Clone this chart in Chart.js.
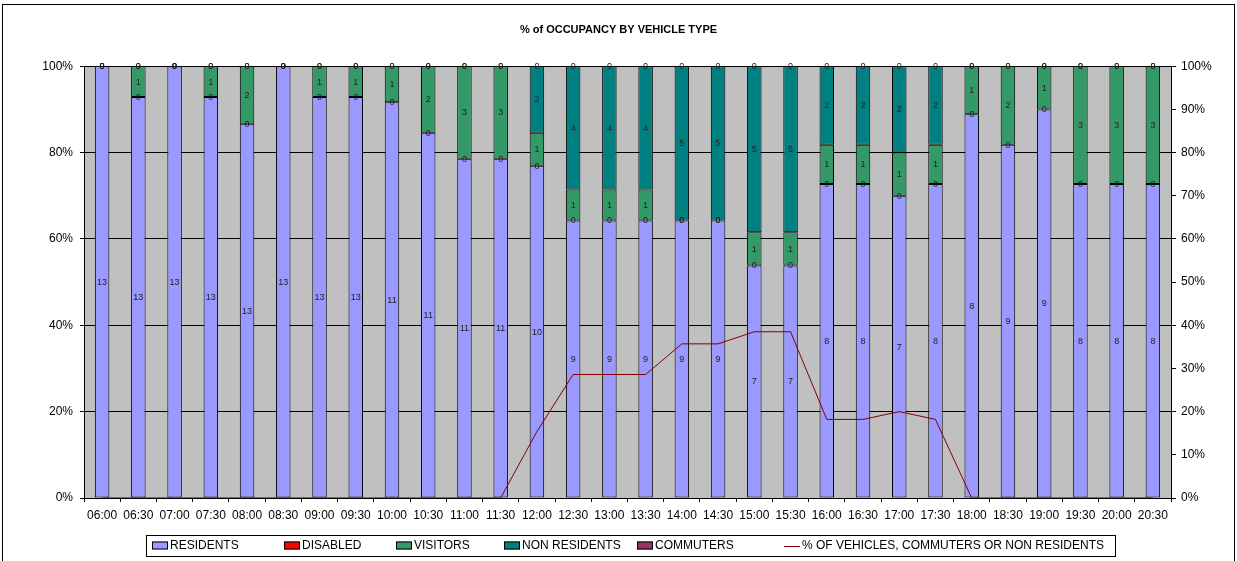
<!DOCTYPE html>
<html>
<head>
<meta charset="utf-8">
<title>% of OCCUPANCY BY VEHICLE TYPE</title>
<script src="https://cdn.jsdelivr.net/npm/chart.js@4.4.1/dist/chart.umd.min.js"></script>
<style>
    html, body { margin: 0; padding: 0; background: #fff; }
    #chartWrap { width: 1237px; height: 561px; }
</style>
</head>
<body>
<div id="chartWrap"><canvas id="occupancyChart" width="1237" height="561"></canvas></div>
<script>
'use strict';

// half-hour slots
const times = ['06:00', '06:30', '07:00', '07:30', '08:00', '08:30', '09:00', '09:30', '10:00', '10:30',
    '11:00', '11:30', '12:00', '12:30', '13:00', '13:30', '14:00', '14:30', '15:00', '15:30',
    '16:00', '16:30', '17:00', '17:30', '18:00', '18:30', '19:00', '19:30', '20:00', '20:30'];

// vehicle counts per slot (the numbers printed in the bars)
const residents    = [13, 13, 13, 13, 13, 13, 13, 13, 11, 11, 11, 11, 10, 9, 9, 9, 9, 9, 7, 7, 8, 8, 7, 8, 8, 9, 9, 8, 8, 8];
const disabled     = [0, 0, 0, 0, 0, 0, 0, 0, 0, 0, 0, 0, 0, 0, 0, 0, 0, 0, 0, 0, 0, 0, 0, 0, 0, 0, 0, 0, 0, 0];
const visitors     = [0, 1, 0, 1, 2, 0, 1, 1, 1, 2, 3, 3, 1, 1, 1, 1, 0, 0, 1, 1, 1, 1, 1, 1, 1, 2, 1, 3, 3, 3];
const nonResidents = [0, 0, 0, 0, 0, 0, 0, 0, 0, 0, 0, 0, 2, 4, 4, 4, 5, 5, 5, 5, 2, 2, 2, 2, 0, 0, 0, 0, 0, 0];
const commuters    = [0, 0, 0, 0, 0, 0, 0, 0, 0, 0, 0, 0, 0, 0, 0, 0, 0, 0, 0, 0, 0, 0, 0, 0, 0, 0, 0, 0, 0, 0];

// % of vehicles, commuters or non residents (right axis)
const commuterShare = [0, 0, 0, 0, 0, 0, 0, 0, 0, 0, 0, 0, 15.4, 28.6, 28.6, 28.6, 35.7, 35.7, 38.5, 38.5,
    18.2, 18.2, 20, 18.2, 0, 0, 0, 0, 0, 0];

const leftTicks = [0, 20, 40, 60, 80, 100];
const rightTicks = [0, 10, 20, 30, 40, 50, 60, 70, 80, 90, 100];

const FONT = 'Arial, "Liberation Sans", sans-serif';

let totals = times.map((t, i) => residents[i] + disabled[i] + visitors[i] + nonResidents[i] + commuters[i]);
let toShare = arr => arr.map((v, i) => totals[i] ? v / totals[i] * 100 : 0);

let barSet = function (label, counts, color) {
    return {
        label: label,
        data: toShare(counts),
        counts: counts,
        backgroundColor: color,
        borderColor: '#000',
        borderWidth: 1,
        borderSkipped: false,
        barPercentage: 0.4,
        categoryPercentage: 1,
        stack: 'occupancy',
        yAxisID: 'y',
        order: 1
    };
};

// grey plot area + outer frame
let chartBackground = {
    id: 'chartBackground',
    beforeDraw(chart) {
        let ctx = chart.ctx, a = chart.chartArea;
        ctx.save();
        ctx.fillStyle = '#fff';
        ctx.fillRect(0, 0, chart.width, chart.height);
        ctx.fillStyle = '#c0c0c0';
        ctx.fillRect(a.left, a.top, a.right - a.left, a.bottom - a.top);
        ctx.strokeStyle = '#000';
        ctx.lineWidth = 1;
        ctx.strokeRect(2.5, 4.5, chart.width - 5, chart.height + 10);
        ctx.restore();
    }
};

// counts written in the middle of every segment
let countLabels = {
    id: 'countLabels',
    afterDatasetsDraw(chart) {
        let ctx = chart.ctx;
        ctx.save();
        ctx.font = '9px ' + FONT;
        ctx.fillStyle = '#222';
        ctx.textAlign = 'center';
        ctx.textBaseline = 'middle';
        chart.data.datasets.forEach((ds, di) => {
            if (!ds.counts) return;
            chart.getDatasetMeta(di).data.forEach((bar, i) => {
                ctx.fillText(String(ds.counts[i]), bar.x, (bar.y + bar.base) / 2 + 0.5);
            });
        });
        ctx.restore();
    }
};

// excel style boxed legend
let boxedLegend = {
    id: 'boxedLegend',
    afterDraw(chart) {
        let ctx = chart.ctx;
        let boxLeft = 146, boxTop = 535, boxW = 969, boxH = 21;
        let itemX = [152, 284, 396, 504, 637, 784];
        let midY = boxTop + boxH / 2;
        ctx.save();
        ctx.strokeStyle = '#000';
        ctx.lineWidth = 1;
        ctx.strokeRect(boxLeft + 0.5, boxTop + 0.5, boxW, boxH);
        ctx.font = '12px ' + FONT;
        ctx.textBaseline = 'middle';
        chart.data.datasets.forEach((ds, i) => {
            let x = itemX[i];
            if (ds.type === 'line') {
                ctx.strokeStyle = ds.borderColor;
                ctx.beginPath();
                ctx.moveTo(x, Math.round(midY) + 0.5);
                ctx.lineTo(x + 16, Math.round(midY) + 0.5);
                ctx.stroke();
            } else {
                ctx.fillStyle = ds.backgroundColor;
                ctx.fillRect(x, midY - 4, 16, 8);
                ctx.strokeStyle = '#000';
                ctx.strokeRect(x + 0.5, midY - 3.5, 15, 7);
            }
            ctx.fillStyle = '#000';
            ctx.fillText(ds.label, x + 18, midY + 0.5);
        });
        ctx.restore();
    }
};

let occupancyChart = new Chart(document.getElementById('occupancyChart'), {
    type: 'bar',
    data: {
        labels: times,
        datasets: [
            barSet('RESIDENTS', residents, '#9999ff'),
            barSet('DISABLED', disabled, '#ff0000'),
            barSet('VISITORS', visitors, '#339966'),
            barSet('NON RESIDENTS', nonResidents, '#008080'),
            barSet('COMMUTERS', commuters, '#993366'),
            {
                type: 'line',
                label: '% OF VEHICLES, COMMUTERS OR NON RESIDENTS',
                data: commuterShare,
                borderColor: '#800000',
                borderWidth: 1,
                pointRadius: 0,
                tension: 0,
                fill: false,
                yAxisID: 'y1',
                order: 0
            }
        ]
    },
    options: {
        responsive: false,
        animation: false,
        layout: { padding: { top: 0, bottom: 33, left: 0, right: 0 } },
        plugins: {
            legend: { display: false },
            tooltip: { enabled: false },
            title: {
                display: true,
                text: '% of OCCUPANCY BY VEHICLE TYPE',
                color: '#000',
                font: { family: FONT, size: 11, weight: 'bold' },
                padding: { top: 23, bottom: 30 }
            }
        },
        scales: {
            x: {
                stacked: true,
                offset: true,
                grid: { offset: true, drawOnChartArea: false, drawTicks: true, tickLength: 4, color: '#000' },
                border: { color: '#000' },
                ticks: { color: '#000', font: { family: FONT, size: 12 }, maxRotation: 0, autoSkip: false, padding: 6 },
                afterFit: s => { s.height = 30; }
            },
            y: {
                stacked: true,
                min: 0,
                max: 100,
                afterBuildTicks: s => { s.ticks = leftTicks.map(v => ({ value: v })); },
                ticks: { color: '#000', font: { family: FONT, size: 12 }, padding: 7, callback: v => v + '%' },
                grid: { color: '#000', tickLength: 4 },
                border: { color: '#000' },
                afterFit: s => { s.width = 84; }
            },
            y1: {
                position: 'right',
                min: 0,
                max: 100,
                afterBuildTicks: s => { s.ticks = rightTicks.map(v => ({ value: v })); },
                ticks: { color: '#000', font: { family: FONT, size: 12 }, padding: 5, callback: v => v + '%' },
                grid: { drawOnChartArea: false, color: '#000', tickLength: 5 },
                border: { color: '#000' },
                afterFit: s => { s.width = 66; }
            }
        }
    },
    plugins: [chartBackground, countLabels, boxedLegend]
});
</script>
</body>
</html>
